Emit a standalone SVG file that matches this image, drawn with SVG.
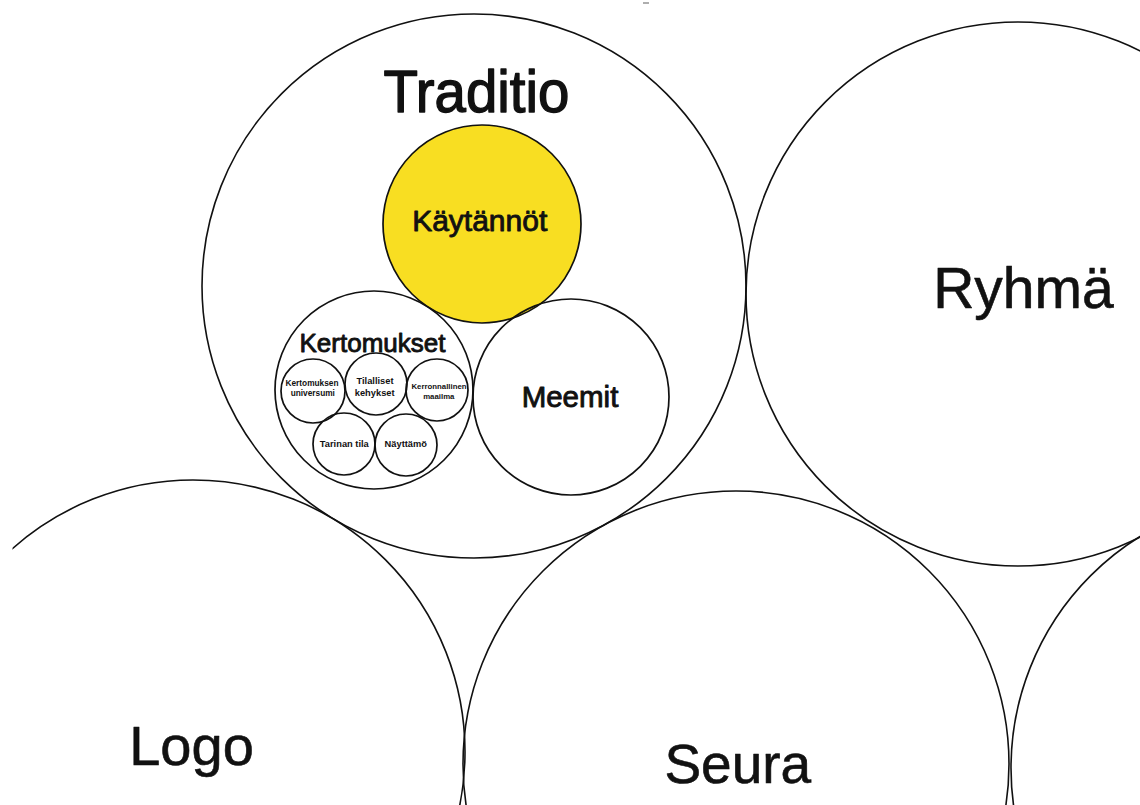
<svg xmlns="http://www.w3.org/2000/svg" width="1140" height="805" viewBox="0 0 1140 805">
<style>
.c{fill:none;stroke:#111;stroke-width:1.6}
.ci{fill:none;stroke:#111;stroke-width:1.7}
.t{font-family:"Liberation Sans",Arial,sans-serif;fill:#111;stroke:#111;stroke-linejoin:round;text-anchor:middle}
.w1{stroke-width:1.4}
.w2{stroke-width:0.9}
.w3{stroke-width:0.6}
.s{font-family:"Liberation Sans",Arial,sans-serif;fill:#111;text-anchor:middle;font-weight:bold}
</style>
<defs>
<clipPath id="clipL"><rect x="12.5" y="0" width="1127.5" height="805"/></clipPath>
</defs>
<rect x="0" y="0" width="1140" height="805" fill="#fff"/>
<line x1="643" y1="3" x2="649" y2="3" stroke="#777" stroke-width="1.2"/>
<g id="traditio">
<circle class="c" cx="474" cy="286" r="272"/>
<text class="t w1" x="476.4" y="111.7" font-size="60" textLength="186" lengthAdjust="spacingAndGlyphs">Traditio</text>
</g>
<g id="ryhma">
<circle class="c" cx="1018" cy="294" r="272"/>
<text class="t w3" x="1023.4" y="308.3" font-size="57">Ryhmä</text>
</g>
<g id="logo">
<circle class="c" cx="193" cy="752" r="272" clip-path="url(#clipL)"/>
<text class="t w3" x="191.5" y="765" font-size="56">Logo</text>
</g>
<g id="seura">
<circle class="c" cx="736" cy="764" r="273"/>
<text class="t w3" x="737.8" y="783" font-size="55">Seura</text>
</g>
<g id="oikea">
<circle class="c" cx="1283" cy="768" r="272"/>
</g>
<g id="kaytannot">
<circle cx="482" cy="224" r="99" fill="#F8DE22" stroke="#111" stroke-width="1.7"/>
<text class="t w2" x="479.7" y="230.7" font-size="30">Käytännöt</text>
</g>
<g id="meemit">
<circle class="ci" cx="571" cy="397" r="98"/>
<text class="t w2" x="570" y="406.7" font-size="29.5">Meemit</text>
</g>
<g id="kertomukset">
<circle class="ci" cx="374" cy="390" r="99"/>
<text class="t w2" x="372.5" y="351.7" font-size="26">Kertomukset</text>
</g>
<g id="kertomuksen-universumi">
<circle class="ci" cx="313" cy="391" r="32"/>
<text class="s" x="312" y="386" font-size="8.3">Kertomuksen</text>
<text class="s" x="312.8" y="396" font-size="8.3">universumi</text>
</g>
<g id="tilalliset-kehykset">
<circle class="ci" cx="376" cy="384" r="31"/>
<text class="s" x="375" y="384" font-size="9.3">Tilalliset</text>
<text class="s" x="374.7" y="396" font-size="9.3">kehykset</text>
</g>
<g id="kerronnallinen-maailma">
<circle class="ci" cx="437" cy="390" r="31"/>
<text class="s" x="439" y="388.7" font-size="7.8">Kerronnallinen</text>
<text class="s" x="438.8" y="399" font-size="7.8">maailma</text>
</g>
<g id="tarinan-tila">
<circle class="ci" cx="344" cy="444" r="31"/>
<text class="s" x="344.3" y="447.3" font-size="9.3">Tarinan tila</text>
</g>
<g id="nayttamo">
<circle class="ci" cx="406" cy="445" r="31"/>
<text class="s" x="405.8" y="447.3" font-size="9.3">Näyttämö</text>
</g>
<g id="connectors"></g>
</svg>
